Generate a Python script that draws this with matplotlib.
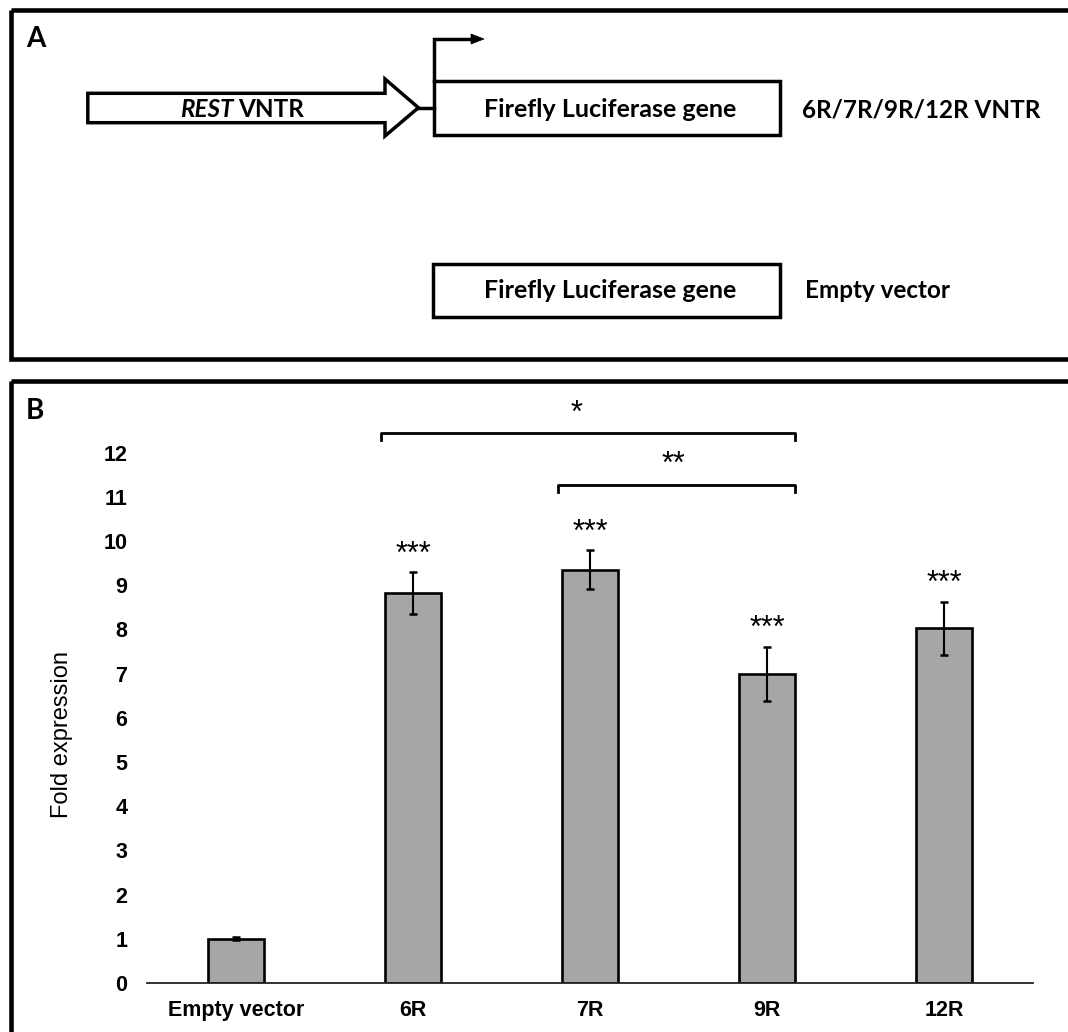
import numpy as np
import matplotlib
matplotlib.use("Agg")
import matplotlib.pyplot as plt
from matplotlib.patches import Rectangle, Polygon

plt.rcParams['font.family'] = ['Liberation Sans', 'DejaVu Sans']

# data (panel B)
constructs = ["Empty vector", "6R", "7R", "9R", "12R"]
fold = [1.0, 8.82, 9.35, 6.99, 8.03]
err = [0.03, 0.47, 0.44, 0.62, 0.60]
stars = ["", "***", "***", "***", "***"]
# pairwise comparisons: (from bar, to bar, bracket height, label)
pairs = [(1, 3, 12.45, "*"), (2, 3, 11.27, "**")]
yticks = list(range(0, 13))

W, H = 1068, 1032
fig = plt.figure(figsize=(W / 100, H / 100), dpi=100)

# pixel overlay for the schematic and panel frames
ov = fig.add_axes([0, 0, 1, 1])
ov.set_xlim(0, W)
ov.set_ylim(H, 0)
ov.axis('off')

frame_lw = 3.3
shape_lw = 2.5
ov.add_patch(Rectangle((11, 9.5), 1070, 349.5, fill=False, lw=frame_lw, ec='black', clip_on=False))
ov.add_patch(Rectangle((11, 380.5), 1070, 700, fill=False, lw=frame_lw, ec='black', clip_on=False))

# panel A
lato = dict(family=['Lato', 'DejaVu Sans'], fontweight='bold')
ov.text(36, 39, "A", fontsize=20, ha='center', va='center', **lato)
ov.text(35, 411, "B", fontsize=20, ha='center', va='center', **lato)

arrow = [(87.8, 93.3), (385, 93.3), (385, 79), (418.4, 107.7), (385, 136), (385, 122.7), (87.8, 122.7)]
ov.add_patch(Polygon(arrow, closed=True, fc='white', ec='black', lw=shape_lw, joinstyle='miter'))
ov.plot([418.4, 434], [107.7, 107.7], color='black', lw=shape_lw)
ov.text(234, 117, "REST", fontsize=17.5, ha='right', va='baseline', style='italic', **lato)
ov.text(238, 117, "VNTR", fontsize=17.5, ha='left', va='baseline', **lato)

ov.add_patch(Rectangle((434, 81), 345.7, 54, fill=False, ec='black', lw=shape_lw, joinstyle='miter'))
ov.plot([434, 434, 473], [81, 39, 39], color='black', lw=shape_lw, solid_joinstyle='miter')
ov.add_patch(Polygon([(471, 34), (484, 39), (471, 44)], closed=True, fc='black', ec='black', lw=0.5))
ov.text(484, 117, "Firefly Luciferase gene", fontsize=18, ha='left', va='baseline', **lato)
ov.text(802, 117, "6R/7R/9R/12R VNTR", fontsize=17.5, ha='left', va='baseline', **lato)

ov.add_patch(Rectangle((433, 264), 346.7, 53, fill=False, ec='black', lw=shape_lw, joinstyle='miter'))
ov.text(484, 298.5, "Firefly Luciferase gene", fontsize=18, ha='left', va='baseline', **lato)
ov.text(805, 298.5, "Empty vector", fontsize=17.5, ha='left', va='baseline', **lato)

# panel B bar chart
x0, x1 = 147.4, 1033
y0, y12 = 983, 452.7
ax = fig.add_axes([x0 / W, (H - y0) / H, (x1 - x0) / W, (y0 - y12) / H])
ax.patch.set_alpha(0)
x = np.arange(len(constructs))
bw = 0.316
ax.bar(x, fold, width=bw, color='#a6a6a6', edgecolor='black', linewidth=1.9, zorder=2)
ax.errorbar(x, fold, yerr=err, fmt='none', ecolor='black', elinewidth=1.5, capsize=2.6, capthick=1.8, zorder=3)

for xi, v, e, s in zip(x, fold, err, stars):
    if s:
        ax.text(xi, v + e + 0.22, s, ha='center', va='baseline', fontsize=22, clip_on=False)

for a, b, h, lab in pairs:
    xa = a - bw / 2 - 0.025
    xb = b + bw / 2
    ax.plot([xa, xa, xb, xb], [h - 0.16, h, h, h - 0.16], color='black', lw=2.0,
            solid_joinstyle='round', clip_on=False)
ax.text(1.92, 13.08 - 0.39, "*", ha='center', va='baseline', fontsize=22, clip_on=False)
ax.text(2.47, 11.93 - 0.39, "**", ha='center', va='baseline', fontsize=22, clip_on=False)

ax.set_xlim(-0.5, 4.5)
ax.set_ylim(0, 12)
ax.set_yticks(yticks)
ax.set_yticklabels([str(t) for t in yticks], fontsize=15.5, fontweight='bold')
ax.set_xticks(x)
ax.set_xticklabels(constructs, fontsize=15.5, fontweight='bold')
ax.tick_params(axis='y', length=0, pad=14.4)
ax.tick_params(axis='x', length=0, pad=12.5)
for side in ['left', 'right', 'top']:
    ax.spines[side].set_visible(False)
ax.spines['bottom'].set_linewidth(1.3)
ax.spines['bottom'].set_color('#222222')

fig.text(62 / W, 1 - 734 / H, "Fold expression", rotation=90, ha='center', va='center', fontsize=17)

fig.savefig("out.png", dpi=100)
